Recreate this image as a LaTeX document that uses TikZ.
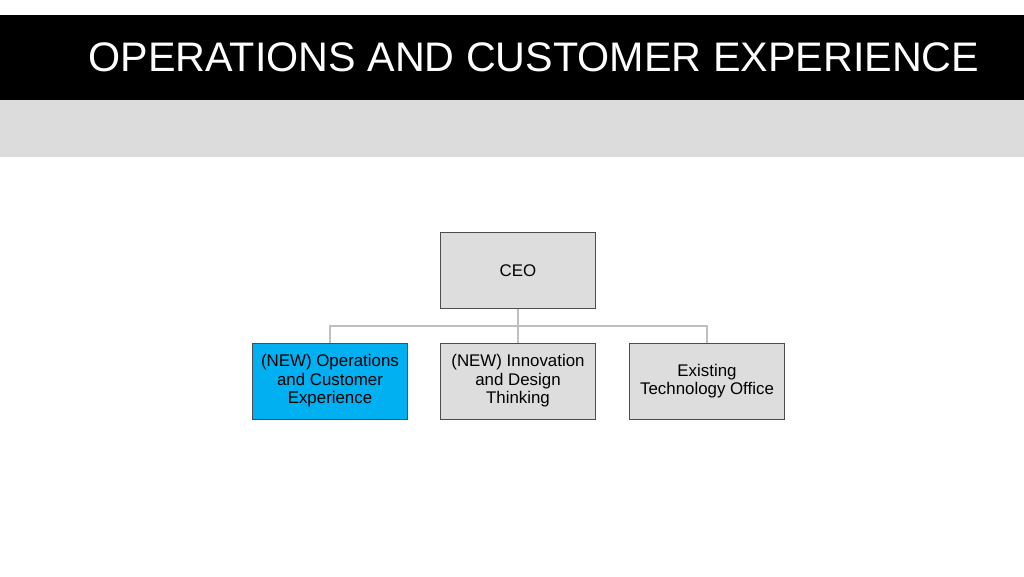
\documentclass[tikz,border=0pt]{standalone}
\usepackage{fontspec}
\setmainfont{Liberation Sans}
\usetikzlibrary{positioning}
\definecolor{bandgray}{HTML}{DCDCDC}
\definecolor{boxgray}{HTML}{DDDDDD}
\definecolor{newblue}{HTML}{00B0F0}
\definecolor{linegray}{HTML}{BFBFBF}
\tikzset{
  unitbox/.style={draw=black!70, fill=boxgray, minimum width=3.1cm, minimum height=1.52cm,
    inner sep=1pt, align=center, font=\fontsize{9.6}{10.6}\selectfont},
  link/.style={draw=linegray, line width=0.6pt}
}
\begin{document}
\begin{tikzpicture}[x=0.02cm, y=-0.02cm]
\useasboundingbox (0,0) rectangle (1024,576);

% Header
\fill [black] (0,15) rectangle (1024,100);
\fill [bandgray] (0,100) rectangle (1024,157);
\node (title) [anchor=west, text=white, inner sep=0, font=\fontsize{23.5}{26}\selectfont] at (88,57) {OPERATIONS AND CUSTOMER EXPERIENCE};

% Chart
\node (ceo) [unitbox] at (518,270.5) {CEO};
\node (ops) [unitbox, fill=newblue] at (330,381) {(NEW) Operations\\and Customer\\Experience};
\node (inno) [unitbox] at (518,381) {(NEW) Innovation\\and Design\\Thinking};
\node (tech) [unitbox] at (707,381) {Existing\\Technology Office};

\coordinate (bus) at (518,326);
\draw [link] (ceo) -- (bus) -- (inno);
\draw [link] (ops.north) |- (bus) -| (tech.north);
\end{tikzpicture}
\end{document}
